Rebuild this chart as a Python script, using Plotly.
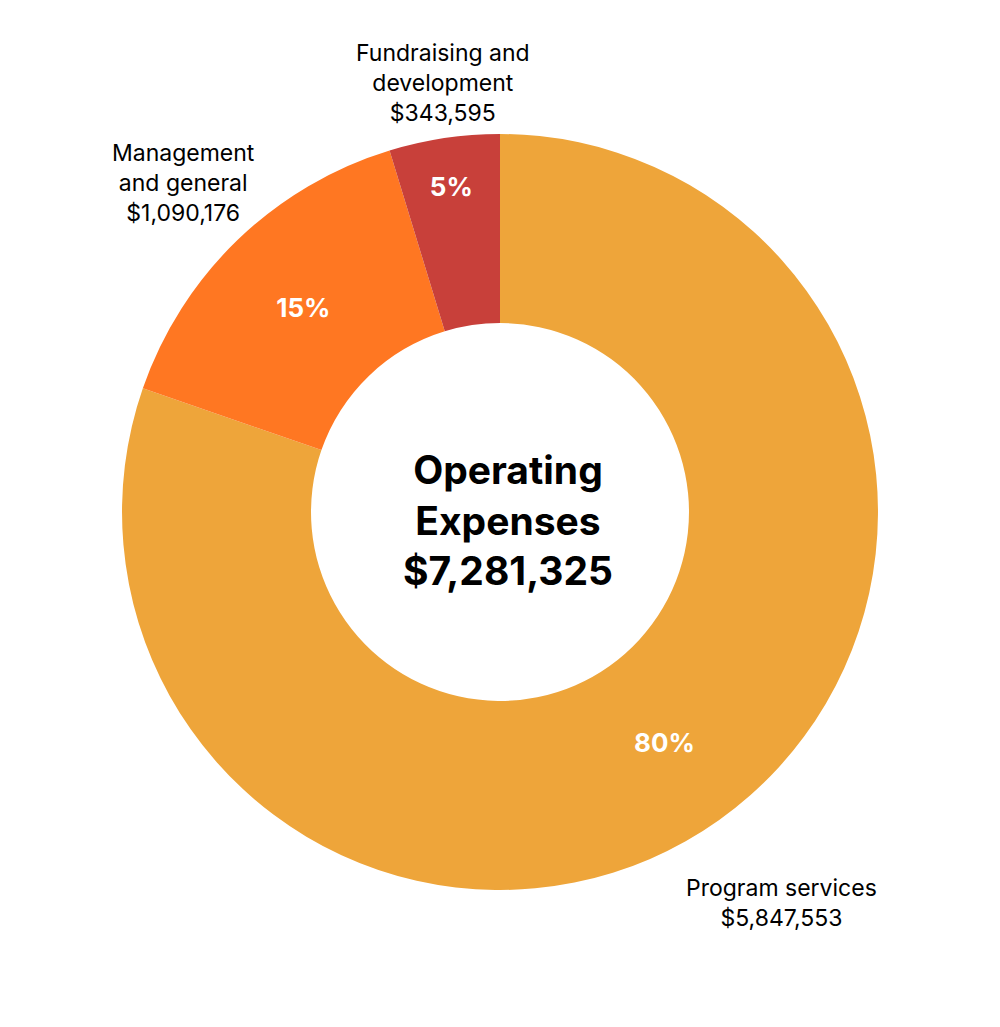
import plotly.graph_objects as go

categories = ["Program services", "Management and general", "Fundraising and development"]
values = [5847553, 1090176, 343595]
colors = ["#EEA53A", "#FF7722", "#C8403A"]
total_label = "$7,281,325"

fig = go.Figure(go.Pie(
    labels=categories, values=values, hole=0.5, sort=False, direction="clockwise",
    rotation=0, marker=dict(colors=colors), textinfo="percent", textposition="inside",
    insidetextorientation="horizontal", texttemplate="<b>%{percent:.0%}</b>",
    textfont=dict(color="white", size=26, family="Inter"), showlegend=False,
    domain=dict(x=[0.114, 0.870], y=[0.1412, 0.8773]),
))
ann_font = dict(family="Inter", size=23, color="black")
def ann(x, ytop, text, size=23):
    fig.add_annotation(x=x, y=1 - ytop / 1027, xref="paper", yref="paper", showarrow=False,
                       xanchor="center", yanchor="middle", text=text,
                       font=dict(family="Inter", size=size, color="black"))
fig.add_annotation(x=0.5, y=1 - 512 / 1027, xref="paper", yref="paper", showarrow=False,
    xanchor="center", yanchor="middle",
    text="<b>Operating<br>Expenses<br>" + total_label + "</b>",
    font=dict(family="Inter", size=39, color="black"))
ann(0.435, 75, "Fundraising and<br>development<br>$343,595")
ann(0.175, 175, "Management<br>and general<br>$1,090,176")
ann(0.773, 895, "Program services<br>$5,847,553")
fig.update_layout(width=1000, height=1027, margin=dict(l=0, r=0, t=0, b=0),
                  paper_bgcolor="white", plot_bgcolor="white")
fig.write_html("out.html")
